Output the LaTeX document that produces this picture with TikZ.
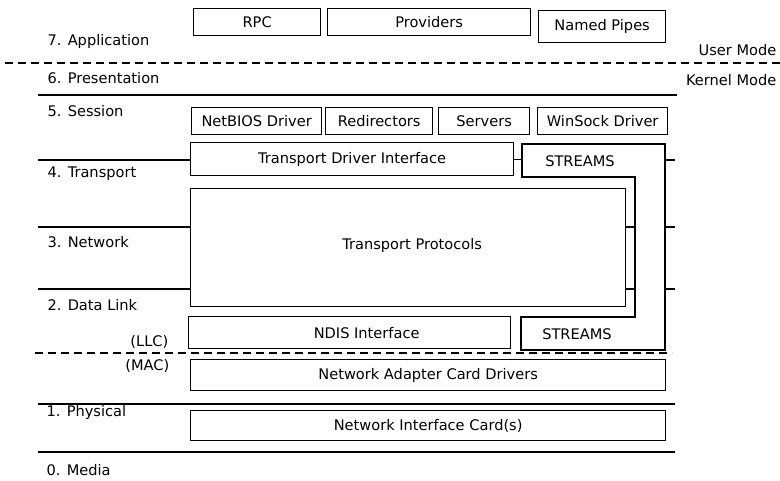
\documentclass[tikz,border=0pt]{standalone}
\usepackage{fontspec}
\setmainfont{DejaVu Sans}
\newcommand\dfont{\fontsize{14.6}{17}\selectfont}
\begin{document}
\begin{tikzpicture}[x=1pt,y=-1pt,line width=1.3pt,
  box/.style={draw,line width=1.3pt,inner sep=0pt,anchor=north west,font=\dfont},
  size/.style 2 args={minimum width=#1pt,minimum height=#2pt},
  txt/.style={inner sep=0pt,font=\dfont},
  lbl/.style={anchor=base west,inner sep=0pt,font=\dfont},
  rlbl/.style={anchor=base east,inner sep=0pt,font=\dfont},
  sep/.style={dash pattern=on 8pt off 5pt}]
\useasboundingbox (0,0) rectangle (780,480);

% user mode components
\node[box,size={127}{27}] (rpc)   at (193,8)  {RPC};
\node[box,size={203}{27}] (prov)  at (327,8)  {Providers};
\node[box,size={127}{32}] (pipes) at (538,10) {Named Pipes};

% session layer drivers
\node[box,size={130}{27}] (netbios) at (191,107) {NetBIOS Driver};
\node[box,size={107}{27}] (redir)   at (325,107) {Redirectors};
\node[box,size={91}{27}]  (servers) at (438,107) {Servers};
\node[box,size={130}{27}] (winsock) at (537,107) {WinSock Driver};

% transport stack
\node[box,size={323}{33}] (tdi) at (190,142) {Transport Driver Interface};
\node[box,size={435}{118}] (tp) at (190,188) {};
\node[txt] (tptext) at ([xshift=4pt,yshift=2pt]tp.center) {Transport Protocols};
\node[box,size={322}{32}] (ndis) at (188,316) {};
\node[txt] (ndistext) at ([xshift=17pt]ndis.center) {NDIS Interface};
\node[box,size={475}{31}] (nacd) at (190,359) {Network Adapter Card Drivers};
\node[box,size={475}{30}] (nic)  at (190,410) {Network Interface Card(s)};

% STREAMS outline (upper and lower parts joined on the right)
\coordinate (s1) at (522,144);
\coordinate (s2) at (665,144);
\coordinate (s3) at (665,350);
\coordinate (s4) at (521,350);
\coordinate (s5) at (521,317);
\coordinate (s6) at (635,317);
\coordinate (s7) at (635,177);
\coordinate (s8) at (522,177);
\draw (s1) -- (s2) -- (s3) -- (s4) -- (s5) -- (s6) -- (s7) -- (s8) -- cycle;
\node[txt] (strup) at (580,161) {STREAMS};
\node[txt] (strlo) at (577,334) {STREAMS};
\draw (tdi.east) -- (tdi.east -| s1);

% layer boundaries
\coordinate (l4) at (38,160);
\coordinate (l3) at (38,227);
\coordinate (l2) at (38,289);
\foreach \c in {l4,l3,l2} {
  \draw (\c) -- (\c -| tp.west);
  \draw (\c -| s2) -- ++(10,0);
}
\draw (tp.east |- l3) -- (s7 |- l3);
\draw (tp.east |- l2) -- (s7 |- l2);

\draw (38,95) -- (677,95);
\draw (38,404) -- (675,404);
\draw (38,452) -- (675,452);
\draw[sep] (5,63) -- (780,63);
\draw[sep] (35,353) -- (672,353);

% layer names
\node[lbl] (app)  at (47,45)  {7. Application};
\node[lbl] (pres) at (47,83)  {6. Presentation};
\node[lbl] (sess) at (47,116) {5. Session};
\node[lbl] (trn)  at (47,177) {4. Transport};
\node[lbl] (net)  at (47,247) {3. Network};
\node[lbl] (dl)   at (47,310) {2. Data Link};
\node[rlbl] (llc) at (169,346) {(LLC)};
\node[rlbl] (mac) at (170,370) {(MAC)};
\node[lbl] (phy)  at (46,416) {1. Physical};
\node[lbl] (med)  at (46,475) {0. Media};
\node[rlbl] (um)  at (777,55) {User Mode};
\node[rlbl] (km)  at (777,85) {Kernel Mode};
\end{tikzpicture}
\end{document}
